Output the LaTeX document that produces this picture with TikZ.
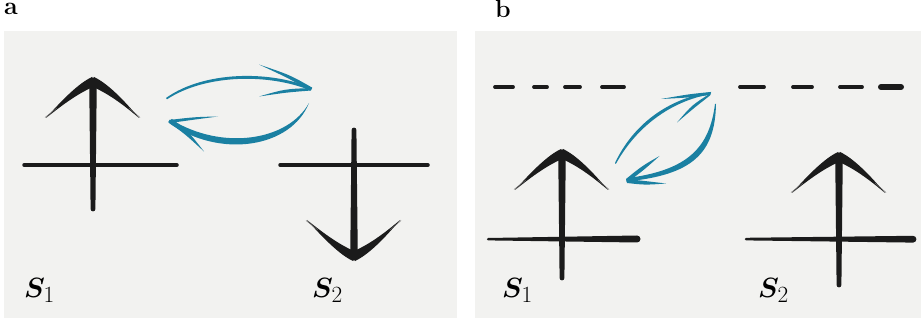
\documentclass[tikz,border=0pt]{standalone}
\usepackage{amsmath,bm}
\usepackage{fontspec}
\definecolor{bgc}{HTML}{F2F2F0}
\definecolor{inkc}{HTML}{1B1B1B}
\definecolor{bluec}{HTML}{1A80A2}
\tikzset{
  spin/.pic={
    \fill[inkc] (0,-1) .. controls (3,1) and (3.7,5) .. (3.7,12) -- (2.4,#1)
      arc[start angle=0,end angle=180,radius=2.4] -- (-3.7,12) .. controls (-3.7,5) and (-3,1) .. cycle;
    \fill[inkc] (-1,-1) .. controls (-14,5) and (-30,21) .. (-47,40) .. controls (-32,28) and (-16,16) .. (-1,9.5) -- cycle;
    \fill[inkc] (1,-1) .. controls (14,5) and (30,21) .. (46,40) .. controls (32,28) and (16,16) .. (1,9.5) -- cycle;
    \draw[black!60, line width=0.5] (-36,30) -- (-48,39.5) (36,30) -- (47,39.5);
  },
  lvl/.style={draw=inkc, line width=3.5, line cap=round},
  dsh/.style={draw=inkc, line width=3.8, line cap=round},
  lab/.style={anchor=base west, inner sep=0pt, font=\fontsize{24.88}{30}\selectfont},
  pan/.style={anchor=base west, inner sep=0pt, font=\fontsize{25}{28}\selectfont\bfseries},
}
\newcommand\spinlab[1]{\scalebox{1.12}{$\bm{S}_{#1}$}}
\begin{document}
\begin{tikzpicture}[x=1pt, y=-1pt]
\useasboundingbox (0,0) rectangle (921,323);
% panels
\fill[bgc] (4,31) rectangle (457,318);
\fill[bgc] (475,31) rectangle (921,318);
\node[pan] (la) at (4,15) {a};
\node[pan] (lb) at (495,18) {b};

% ---------- panel a ----------
\draw[lvl] (24,165) -- (177,165);
\draw[lvl] (280,165) -- (428,165);
\pic at (93,78) {spin=131};
\pic[yscale=-1] at (354,260) {spin=130};
\node[lab] (aS1) at (24,297) {\spinlab{1}};
\node[lab] (aS2) at (312,297) {\spinlab{2}};

% blue arrows a
\fill[bluec] (166,98) .. controls (204,70.8) and (270,70.3) .. (312,88) -- (310,90.3) .. controls (270,73.7) and (206,73.7) .. (167,99.3) -- cycle;
\fill[bluec] (312,87.5) .. controls (290,75) .. (259,64.5) .. controls (288,78) .. (310,90.5) -- cycle;
\fill[bluec] (312,88) .. controls (285,89) .. (259,96.5) .. controls (286,92.5) .. (311,90.5) -- cycle;
\fill[bluec] (309,103) .. controls (291,148) and (220,159) .. (169,123) -- (171,119.5) .. controls (222,151) and (288,141) .. (309,103) -- cycle;
\fill[bluec] (169,120) .. controls (195,117) .. (218,116.5) .. controls (195,119.5) .. (170,123) -- cycle;
\fill[bluec] (168,122) .. controls (185,134) .. (204,151.5) .. controls (188,131) .. (172,119) -- cycle;

% ---------- panel b ----------
% dashed levels
\draw[dsh] (495,87) -- (513,87);
\draw[dsh] (534,87) -- (547,87);
\draw[dsh] (565,87) -- (580,87);
\draw[dsh] (602,87) -- (624,87);
\draw[dsh] (740,87) -- (764,87);
\draw[dsh] (793,87) -- (812,87);
\draw[dsh] (840,87) -- (862,87);
\draw[dsh, line width=6] (881,87) -- (901,87);
% tapered levels
\fill[inkc] (488,238) -- (637,235.5) arc[start angle=-90,end angle=90,radius=3.5] -- (488,240.4) arc[start angle=90,end angle=270,radius=1.2] -- cycle;
\fill[inkc] (746,237.8) -- (913,235.8) arc[start angle=-90,end angle=90,radius=3.4] -- (746,240.4) arc[start angle=90,end angle=270,radius=1.3] -- cycle;
\pic at (562,150) {spin=128};
\pic at (839,153) {spin=132};
\node[lab] (bS1) at (502,297) {\spinlab{1}};
\node[lab] (bS2) at (758,297) {\spinlab{2}};

% blue arrows b
\fill[bluec] (615,163) .. controls (633.5,123.5) and (669,98.5) .. (711,92) -- (709,94.5) .. controls (671,101.5) and (636.5,126.5) .. (615.8,164) -- cycle;
\fill[bluec] (711,92) .. controls (690,94) .. (661,99) .. controls (690,97.5) .. (710,95) -- cycle;
\fill[bluec] (711,93) .. controls (692,105) .. (677,122.5) .. controls (694,108) .. (710,95.5) -- cycle;
\fill[bluec] (716,104) .. controls (715,153) and (693,175) .. (626,181.5) -- (628,178) .. controls (688,170) and (709.5,147.5) .. (715,104) -- cycle;
\fill[bluec] (626,179) .. controls (642,166) .. (659.5,156) .. controls (645,169) .. (628,182) -- cycle;
\fill[bluec] (626,179) .. controls (645,181) .. (666,183.5) .. controls (645,185) .. (627,183) -- cycle;
\end{tikzpicture}
\end{document}
